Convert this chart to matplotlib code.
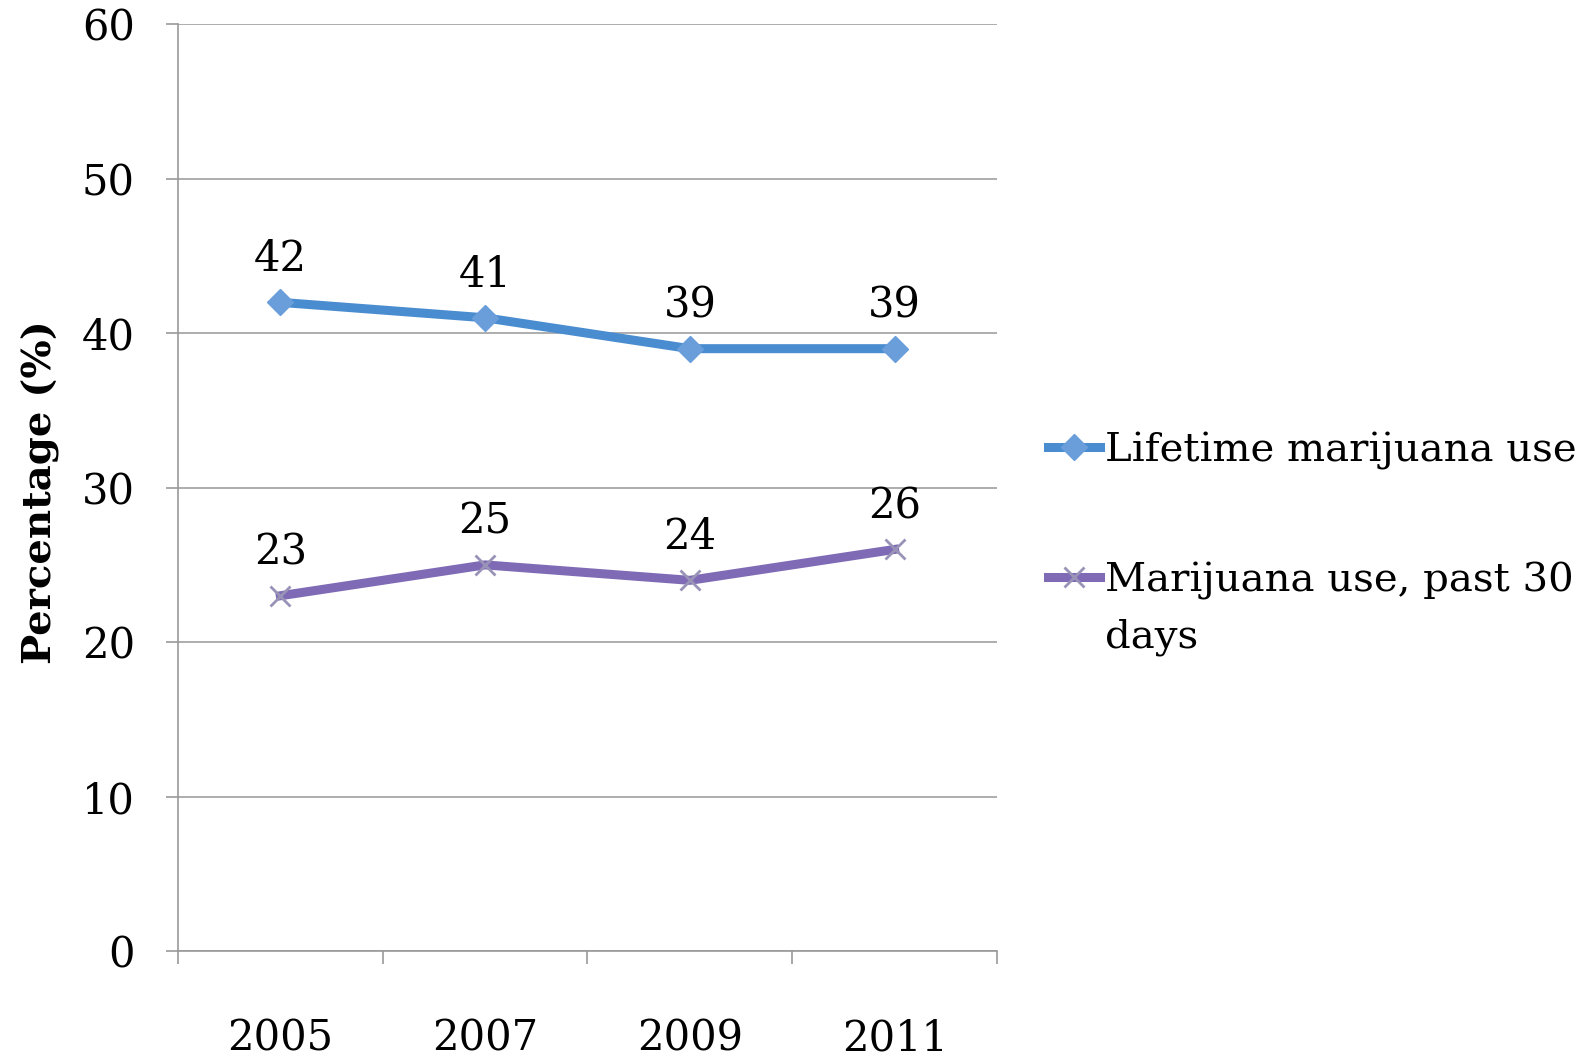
import matplotlib
matplotlib.use("Agg")
import matplotlib.pyplot as plt
from matplotlib.lines import Line2D

years = ["2005", "2007", "2009", "2011"]
lifetime = [42, 41, 39, 39]
past30 = [23, 25, 24, 26]
yticks = [0, 10, 20, 30, 40, 50, 60]
series_names = ["Lifetime marijuana use", "Marijuana use, past 30", "days"]

plt.rcParams['font.family'] = ['DejaVu Serif']
FS = 30
LFS = 29

fig = plt.figure(figsize=(15.83, 10.59), dpi=100)
ax = fig.add_axes([0.1124, 0.102, 0.5174, 0.875])

x = list(range(len(years)))
blue = "#4A8CD0"
purple = "#7F6AB5"
blue_style = dict(color=blue, lw=6.5, marker="D", markersize=13,
                  markerfacecolor="#6A9EDB", markeredgecolor="#6A9EDB")
purple_style = dict(color=purple, lw=6.5, marker="x", markersize=15,
                    markeredgecolor="#9A93B8", markeredgewidth=2)
ax.plot(x, lifetime, zorder=3, **blue_style)
ax.plot(x, past30, zorder=3, **purple_style)

for series in (lifetime, past30):
    for xi, v in zip(x, series):
        ax.annotate(str(v), (xi, v), xytext=(0, 31), textcoords="offset points",
                    ha="center", va="center", fontsize=FS)

ax.set_xlim(-0.5, 3.5)
ax.set_ylim(0, 60)
ax.set_yticks(yticks)
ax.set_yticklabels([str(t) for t in yticks], fontsize=FS)
ax.set_xticks(x)
ax.set_xticklabels(years, fontsize=FS)
ax.set_xticks([-0.5, 0.5, 1.5, 2.5, 3.5], minor=True)
ax.tick_params(axis="x", which="major", length=0, pad=48)
ax.tick_params(axis="x", which="minor", length=9, width=1.2, color="#999999", direction="out")
ax.tick_params(axis="y", length=9, width=1.2, color="#999999", direction="out", pad=22)
ax.grid(axis="y", color="#A0A0A0", lw=1.2)
ax.set_axisbelow(True)
for s in ["top", "right"]:
    ax.spines[s].set_visible(False)
for s in ["left", "bottom"]:
    ax.spines[s].set_color("#999999")
    ax.spines[s].set_linewidth(1.2)

ax.set_ylabel("Percentage (%)", fontsize=29, fontweight="bold")
ax.yaxis.set_label_coords(-0.144, 0.495)

handles = [Line2D([], [], **blue_style), Line2D([], [], **purple_style)]
leg = fig.legend(handles, series_names[:2],
                 loc="upper left", bbox_to_anchor=(0.662, 0.592), frameon=False,
                 fontsize=LFS, handlelength=1.3, handletextpad=0.12, labelspacing=2.27,
                 borderaxespad=0, borderpad=0)
fig.canvas.draw()
ax.annotate(series_names[2], xy=(0, 0), xycoords=leg.get_texts()[1],
            xytext=(0, -14), textcoords="offset points", ha="left", va="top",
            fontsize=LFS)

fig.savefig("out.png", dpi=100)
